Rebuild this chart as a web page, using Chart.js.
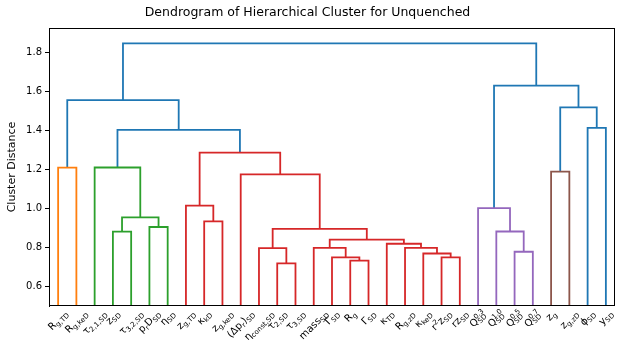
<!DOCTYPE html>
<html>
<head>
<meta charset="utf-8">
<script src="https://cdn.jsdelivr.net/npm/chart.js@4.4.1/dist/chart.umd.min.js"></script>
<style>
  html, body { margin: 0; padding: 0; background: #fff; }
  #wrap { width: 623px; height: 354px; }
</style>
</head>
<body>
<div id="wrap"><canvas id="dendro"></canvas></div>
<script>
// leaf labels (order as drawn), simple markup: _{sub} ^{sup}
const leafLabels = [
  'R_{g,TD}', 'R_{g,keD}', 'τ_{2,1,SD}', 'z_{SD}', 'τ_{3,2,SD}', 'p_{r}D_{SD}', 'η_{SD}',
  'z_{g,TD}', 'κ_{kD}', 'z_{g,keD}', '(Δp_{r})_{SD}', 'η_{const,SD}', 'τ_{2,SD}', 'τ_{3,SD}',
  'mass_{SD}', 'Γ_{SD}', 'R_{g}', 'Γ_{SD}', 'κ_{TD}', 'R_{g,zD}', 'κ_{keD}', 'r^{2}z_{SD}',
  'rz_{SD}', 'Q_{SD}^{0.3}', 'Q_{SD}^{1.0}', 'Q_{SD}^{0.5}', 'Q_{SD}^{0.7}', 'z_{g}', 'z_{g,zD}',
  'ϕ_{SD}', 'y_{SD}'
];

// linkage: node ids 0..30 are leaves, merge k becomes node 31+k
const linkLeft   = [12, 16, 25, 21, 20, 15, 11, 14, 19, 18, 38, 3,  24, 5,  37, 8,  42, 23, 7,  10, 27, 0,  2,  49, 53, 29, 51, 52, 48, 58];
const linkRight  = [13, 17, 26, 22, 34, 32, 31, 36, 35, 39, 40, 4,  33, 6,  41, 9,  44, 43, 46, 45, 28, 1,  47, 50, 54, 30, 56, 55, 57, 59];
const linkHeight = [0.719, 0.733, 0.778, 0.749, 0.769, 0.749, 0.797, 0.798, 0.798, 0.819, 0.840, 0.881, 0.882, 0.905, 0.895,
                    0.934, 0.954, 1.002, 1.015, 1.175, 1.189, 1.209, 1.210, 1.286, 1.403, 1.413, 1.518, 1.555, 1.630, 1.846];
const linkColor  = ['red', 'red', 'purple', 'red', 'red', 'red', 'red', 'red', 'red', 'red', 'red', 'green', 'purple', 'green', 'red',
                    'red', 'green', 'purple', 'red', 'red', 'brown', 'orange', 'green', 'red', 'blue', 'blue', 'blue', 'blue', 'blue', 'blue'];

const yTicks = [0.6, 0.8, 1.0, 1.2, 1.4, 1.6, 1.8];

const palette = { blue: '#1f77b4', orange: '#ff7f0e', green: '#2ca02c', red: '#d62728', purple: '#9467bd', brown: '#8c564b' };

// node positions (scipy style: leaf i at 5 + 10 i)
const nodeX = leafLabels.map((_, i) => 5 + 10 * i);
const nodeY = leafLabels.map(() => 0);
linkHeight.forEach((h, k) => {
  nodeX.push((nodeX[linkLeft[k]] + nodeX[linkRight[k]]) / 2);
  nodeY.push(h);
});

const datasets = linkHeight.map((h, k) => {
  const a = linkLeft[k], b = linkRight[k];
  return {
    data: [
      { x: nodeX[a], y: nodeY[a] },
      { x: nodeX[a], y: h },
      { x: nodeX[b], y: h },
      { x: nodeX[b], y: nodeY[b] }
    ],
    showLine: true,
    borderColor: palette[linkColor[k]],
    borderWidth: 1.8,
    pointRadius: 0,
    fill: false,
    clip: 0
  };
});

// split markup into runs: {text, mode}
function parseLabel(s) {
  const runs = [];
  let i = 0;
  while (i < s.length) {
    if ((s[i] === '_' || s[i] === '^') && s[i + 1] === '{') {
      const end = s.indexOf('}', i);
      runs.push({ text: s.slice(i + 2, end), mode: s[i] === '_' ? 'sub' : 'sup' });
      i = end + 1;
    } else {
      let j = i;
      while (j < s.length && !((s[j] === '_' || s[j] === '^') && s[j + 1] === '{')) j++;
      runs.push({ text: s.slice(i, j), mode: 'base' });
      i = j;
    }
  }
  return runs;
}

const baseFont = 10, smallFont = 7;
const family = '"DejaVu Sans", sans-serif';

const leafLabelPlugin = {
  id: 'leafLabels',
  afterDraw(chart) {
    const ctx = chart.ctx, xs = chart.scales.x, area = chart.chartArea;
    ctx.save();
    ctx.fillStyle = '#000';
    leafLabels.forEach((lab, i) => {
      const runs = parseLabel(lab);
      // measure (sub and sup stacked when adjacent)
      let w = 0;
      const pieces = [];
      for (let r = 0; r < runs.length; r++) {
        const run = runs[r];
        ctx.font = (run.mode === 'base' ? baseFont : smallFont) + 'px ' + family;
        const rw = ctx.measureText(run.text).width;
        if (run.mode === 'sup' && r > 0 && runs[r - 1].mode === 'sub') {
          const prev = pieces[pieces.length - 1];
          pieces.push({ run, x: prev.x, w: rw });
          w = Math.max(w, prev.x + rw);
        } else {
          pieces.push({ run, x: w, w: rw });
          w += rw;
        }
      }
      const h = baseFont + 2;
      const c = Math.SQRT1_2;
      const bb = (w + h) * c;
      const cx = xs.getPixelForValue(nodeX[i]);
      const cy = area.bottom + 2 + bb / 2;
      ctx.translate(cx, cy);
      ctx.rotate(-Math.PI / 4);
      ctx.textBaseline = 'alphabetic';
      ctx.textAlign = 'left';
      pieces.forEach(p => {
        let dy = 3;
        if (p.run.mode === 'base') ctx.font = baseFont + 'px ' + family;
        else {
          ctx.font = smallFont + 'px ' + family;
          dy = p.run.mode === 'sub' ? 5 : -1;
        }
        ctx.fillText(p.run.text, p.x - w / 2, dy);
      });
      ctx.setTransform(1, 0, 0, 1, 0, 0);
    });
    // full frame like matplotlib spines
    ctx.strokeStyle = '#000';
    ctx.lineWidth = 1;
    ctx.strokeRect(area.left + 0.5, area.top + 0.5, area.right - area.left - 1, area.bottom - area.top - 1);
    ctx.restore();
  }
};

new Chart(document.getElementById('dendro'), {
  type: 'scatter',
  data: { datasets },
  plugins: [leafLabelPlugin],
  options: {
    responsive: true,
    maintainAspectRatio: false,
    animation: false,
    layout: { padding: { left: 0, right: 8, top: 0, bottom: 0 } },
    plugins: {
      legend: { display: false },
      tooltip: { enabled: false },
      title: {
        display: true,
        text: 'Dendrogram of Hierarchical Cluster for Unquenched',
        font: { family: '"DejaVu Sans"', size: 12.5, weight: 'normal' },
        color: '#000',
        padding: { top: 5, bottom: 8 }
      }
    },
    scales: {
      x: {
        type: 'linear',
        min: 0,
        max: leafLabels.length * 10,
        ticks: { display: false },
        grid: { display: false },
        border: { display: false },
        afterFit(scale) { scale.height = 48; }
      },
      y: {
        min: 0.5,
        max: 1.925,
        afterBuildTicks(scale) { scale.ticks = yTicks.map(v => ({ value: v })); },
        ticks: {
          callback: v => v.toFixed(1),
          color: '#000',
          padding: 3,
          font: { family: '"DejaVu Sans"', size: 10 }
        },
        grid: { display: true, drawOnChartArea: false, drawTicks: true, tickLength: 4, color: '#000' },
        border: { display: true, color: '#000' },
        title: {
          display: true,
          text: 'Cluster Distance',
          color: '#000',
          font: { family: '"DejaVu Sans"', size: 11 },
          padding: { top: 6, bottom: 2 }
        },
        afterFit(scale) { scale.width = 49; }
      }
    }
  }
});
</script>
</body>
</html>
